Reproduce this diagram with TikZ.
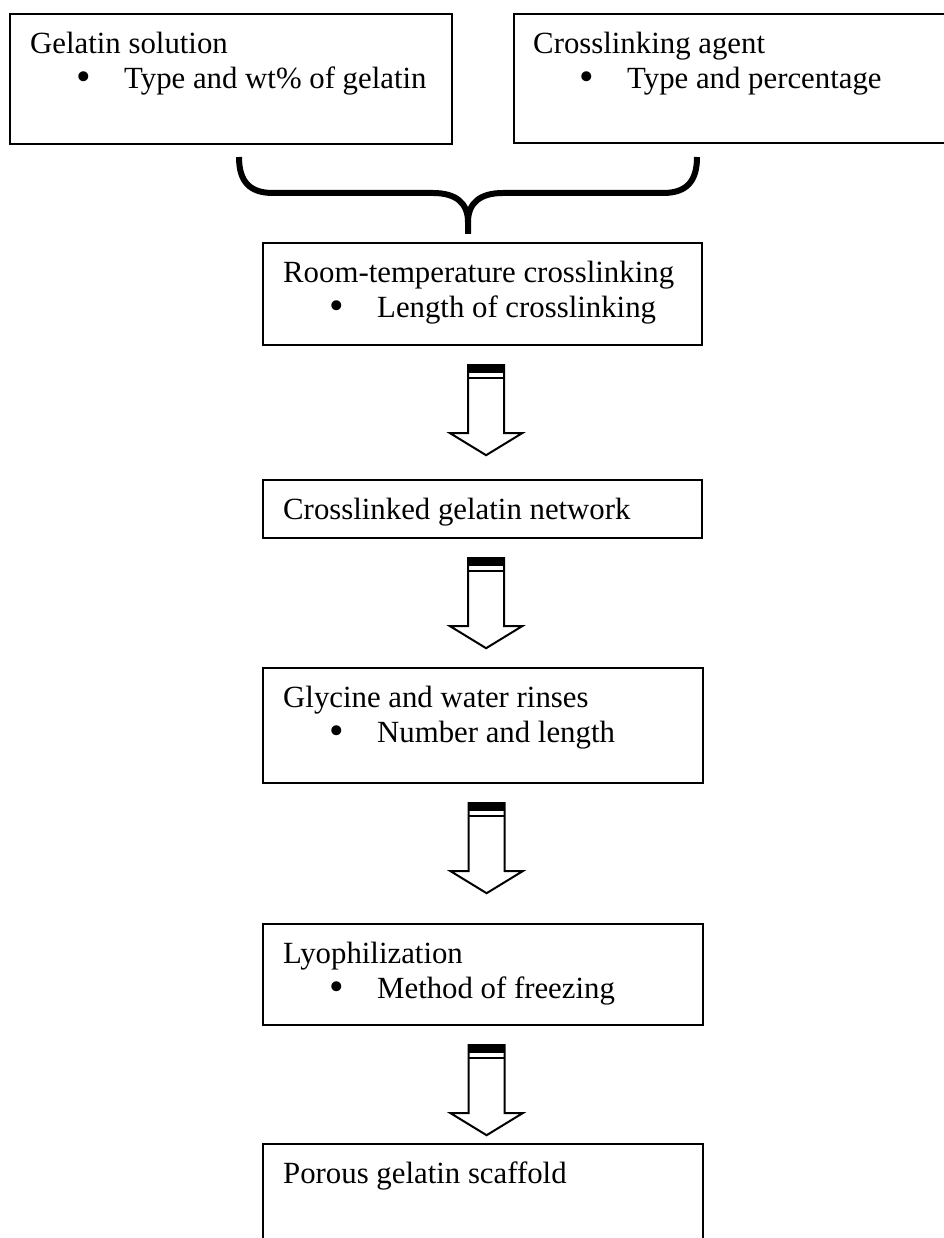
\documentclass[tikz,border=0pt]{standalone}
\usepackage{fontspec}
\setmainfont{Liberation Serif}
\usetikzlibrary{calc}
\newcommand{\bul}[1]{\\\hspace*{46pt}\makebox[48pt][l]{\raisebox{-1.5pt}{\scalebox{1.35}{\textbullet}}}#1}

\begin{document}
\begin{tikzpicture}[x=1pt,y=1pt,
  stage/.style={draw=black,line width=2.2pt,fill=white,anchor=north west,inner sep=0pt},
  stagetext/.style={anchor=north west,inner sep=0pt,align=left,font=\fontsize{30.8}{35}\selectfont},
  brace/.style={draw=black,line width=6pt},
  blockarrow/.style={draw=black,line width=2pt,fill=white,line join=miter}
]
  \useasboundingbox (0,0) rectangle (943,-1238);
  \node[stage,minimum width=442pt,minimum height=130pt] (gel) at (9,-13) {};
  \node[stage,minimum width=440pt,minimum height=129pt] (agent) at (513,-13) {};
  \node[stage,minimum width=439pt,minimum height=102pt] (rt) at (262,-242) {};
  \node[stage,minimum width=439pt,minimum height=58pt] (net) at (262,-479) {};
  \node[stage,minimum width=440pt,minimum height=115pt] (rinse) at (262,-667) {};
  \node[stage,minimum width=440pt,minimum height=101pt] (lyo) at (262,-923) {};
  \node[stage,minimum width=440pt,minimum height=112pt] (scaf) at (262,-1143) {};
  % texts
  \node[stagetext] (geltext) at ($(gel.north west)+(21,-19)$) {Gelatin solution\bul{Type and wt\% of gelatin}};
  \node[stagetext] (agenttext) at ($(agent.north west)+(20,-19)$) {Crosslinking agent\bul{Type and percentage}};
  \node[stagetext] (rttext) at ($(rt.north west)+(21,-19)$) {Room-temperature crosslinking\bul{Length of crosslinking}};
  \node[stagetext] (nettext) at ($(net.north west)+(21,-19)$) {Crosslinked gelatin network};
  \node[stagetext] (rinsetext) at ($(rinse.north west)+(21,-19)$) {Glycine and water rinses\bul{Number and length}};
  \node[stagetext] (lyotext) at ($(lyo.north west)+(21,-19)$) {Lyophilization\bul{Method of freezing}};
  \node[stagetext] (scaftext) at ($(scaf.north west)+(21,-19)$) {Porous gelatin scaffold};
  % brace joining the two inputs
  \coordinate (braceL) at (239,-157);
  \coordinate (braceR) at (697,-157);
  \coordinate (tip) at (468,-222);
  \draw[brace] (braceL) .. controls (239,-182) and (250,-193) .. (273,-193) -- (433,-193)
    .. controls (456,-193) and (468,-203) .. (tip) -- ($(tip |- rt.north)+(0,8)$);
  \draw[brace] (braceR) .. controls (697,-182) and (686,-193) .. (663,-193) -- (503,-193)
    .. controls (480,-193) and (468,-203) .. (tip);
  % striped block arrows
  \foreach \a in {rt,net,rinse,lyo}{
    \coordinate (top-\a) at ($(\a.south)+(3.5,-19)$);
    \draw[blockarrow] ($(top-\a)+(-18,0)$) -- ++(0,-68) -- ++(-18,0) -- ++(36,-22)
      -- ++(36,22) -- ++(-18,0) -- ++(0,68) -- cycle;
    \fill ($(top-\a)+(-18,0)$) rectangle ++(36,-8);
    \draw[line width=2pt] ($(top-\a)+(-18,-12.5)$) -- ++(36,0);
  }
\end{tikzpicture}
\end{document}
